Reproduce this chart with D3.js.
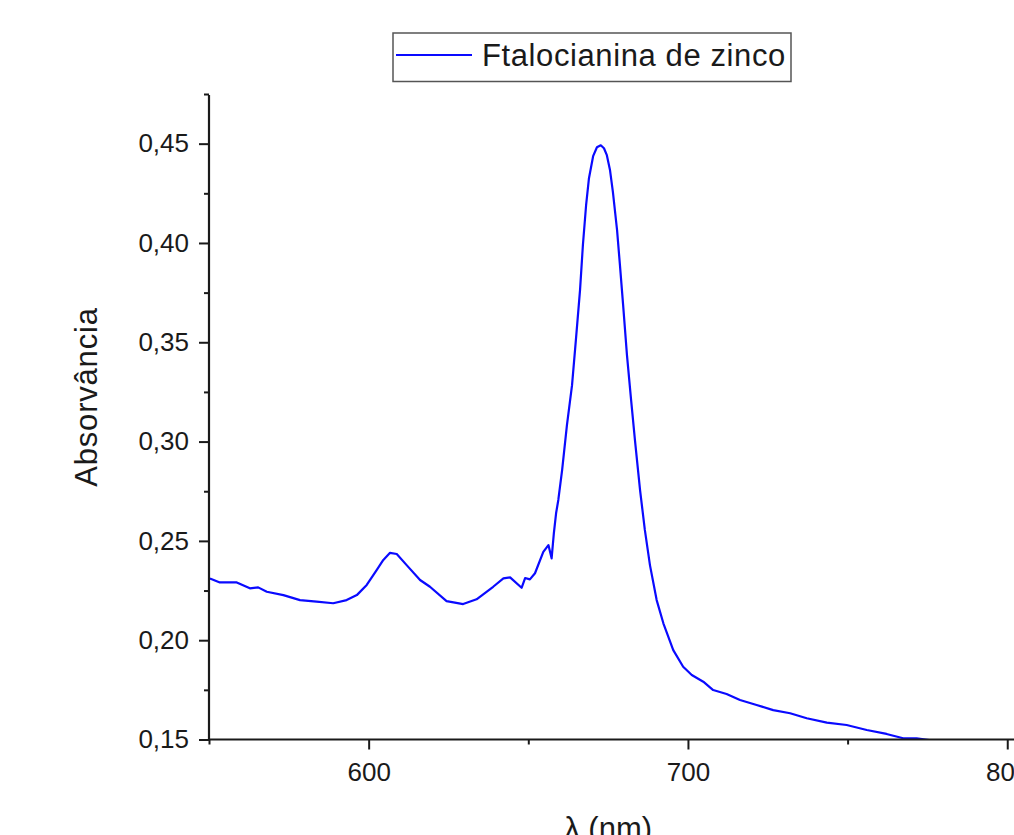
<!DOCTYPE html>
<html>
<head>
<meta charset="utf-8">
<script src="https://cdn.jsdelivr.net/npm/d3@7"></script>
<style>
  body { margin: 0; background: #fff; }
  text { font-family: "Liberation Sans", Arial, sans-serif; fill: #1a1a1a; }
</style>
</head>
<body>
<script>
// spectrum: wavelength (nm) and absorbance
var wavelength = [550.3, 553.4, 558.7, 562.8, 565.4, 568.1, 573.3, 578.5, 583.7, 588.9,
  593.1, 596.3, 599.4, 602.5, 604.6, 606.7, 608.8, 611.9, 616.1, 619.2,
  624.4, 629.6, 633.8, 639.0, 642.2, 644.3, 647.9, 649.0, 650.5, 652.1,
  654.7, 656.3, 657.3, 658.0, 658.7, 659.4, 660.6, 662.1, 663.7, 664.9,
  666.2, 667.1, 668.1, 669.0, 670.3, 671.5, 672.7, 673.7, 674.6, 675.6,
  676.5, 677.8, 678.7, 679.7, 680.9, 682.2, 683.4, 685.0, 686.5, 688.1,
  690.2, 692.3, 695.4, 698.5, 701.2, 704.8, 707.9, 712.1, 716.3, 721.5,
  726.7, 732.0, 737.2, 743.5, 749.7, 756.0, 762.2, 767.4, 771.6, 776.7, 785.2];
var absorbance = [0.2311, 0.2291, 0.2291, 0.2261, 0.2266, 0.2244, 0.2227, 0.2202, 0.2194, 0.2186,
  0.2202, 0.2227, 0.2278, 0.2353, 0.2404, 0.2440, 0.2434, 0.2378, 0.2303, 0.2269,
  0.2197, 0.2182, 0.2206, 0.2269, 0.2311, 0.2316, 0.2264, 0.2313, 0.2306, 0.2337,
  0.2445, 0.2479, 0.2412, 0.2538, 0.2639, 0.2706, 0.2857, 0.3083, 0.3284, 0.3511,
  0.3763, 0.3989, 0.4190, 0.4326, 0.4437, 0.4482, 0.4492, 0.4477, 0.4442, 0.4366,
  0.4256, 0.4065, 0.3888, 0.3687, 0.3435, 0.3209, 0.3007, 0.2756, 0.2555, 0.2378,
  0.2202, 0.2085, 0.1950, 0.1866, 0.1825, 0.1791, 0.1749, 0.1729, 0.1699, 0.1674,
  0.1648, 0.1632, 0.1607, 0.1585, 0.1573, 0.1548, 0.1528, 0.1506, 0.1506, 0.1495, 0.1467];

var xMajor = [600, 700, 800];
var xMinor = [550, 650, 750];
var yMajor = [0.15, 0.20, 0.25, 0.30, 0.35, 0.40, 0.45];
var yMinor = [0.175, 0.225, 0.275, 0.325, 0.375, 0.425, 0.475];
var seriesName = "Ftalocianina de zinco";

var W = 1014, H = 835;
var plotLeft = 209, plotBottom = 739.5, plotTop = 95;

var svg = d3.select("body").append("svg")
  .attr("width", W).attr("height", H);

var x = d3.scaleLinear().domain([550, 805]).range([plotLeft, plotLeft + 255 * 3.193]);
var y = d3.scaleLinear().domain([0.15, 0.4745]).range([plotBottom, plotTop]);

var comma = function(d) { return d3.format(".2f")(d).replace(".", ","); };

// clip
svg.append("clipPath").attr("id", "plot")
  .append("rect").attr("x", plotLeft).attr("y", plotTop - 5)
  .attr("width", W - plotLeft).attr("height", plotBottom - plotTop + 5);

// data line
var pts = wavelength.map(function(w, i) { return [w, absorbance[i]]; });
svg.append("path")
  .datum(pts)
  .attr("clip-path", "url(#plot)")
  .attr("fill", "none")
  .attr("stroke", "#0a0aff")
  .attr("stroke-width", 2.2)
  .attr("stroke-linejoin", "round")
  .attr("d", d3.line().x(d => x(d[0])).y(d => y(d[1])));

// y axis
var yAx = svg.append("g").attr("transform", "translate(" + plotLeft + ",0)")
  .call(d3.axisLeft(y).tickValues(yMajor).tickSize(10).tickPadding(10).tickFormat(comma));
var yMin = svg.append("g").attr("transform", "translate(" + plotLeft + ",0)")
  .call(d3.axisLeft(y).tickValues(yMinor).tickSize(5).tickFormat(""));

// x axis
var xAx = svg.append("g").attr("transform", "translate(0," + plotBottom + ")")
  .call(d3.axisBottom(x).tickValues(xMajor).tickSize(10).tickPadding(13).tickFormat(d3.format("d")));
var xMin = svg.append("g").attr("transform", "translate(0," + plotBottom + ")")
  .call(d3.axisBottom(x).tickValues(xMinor).tickSize(5).tickFormat(""));

[yAx, yMin, xAx, xMin].forEach(function(g) {
  g.select(".domain").remove();
  g.selectAll("line").attr("stroke", "#1a1a1a").attr("stroke-width", 2);
  g.selectAll("text").style("font-size", "26px").attr("fill", "#1a1a1a")
    .style("font-family", "'Liberation Sans', Arial, sans-serif");
});

svg.append("line").attr("x1", plotLeft).attr("x2", plotLeft)
  .attr("y1", plotTop).attr("y2", plotBottom + 1)
  .attr("stroke", "#1a1a1a").attr("stroke-width", 2.2);
svg.append("line").attr("x1", plotLeft - 1).attr("x2", W)
  .attr("y1", plotBottom).attr("y2", plotBottom)
  .attr("stroke", "#1a1a1a").attr("stroke-width", 2.2);

// axis titles
svg.append("text")
  .attr("transform", "translate(97,397) rotate(-90)")
  .attr("text-anchor", "middle")
  .style("font-size", "31px").style("letter-spacing", "0.8px")
  .text("Absorvância");

svg.append("text")
  .attr("x", x(675)).attr("y", 839)
  .attr("text-anchor", "middle")
  .style("font-size", "31px")
  .text("λ (nm)");

// legend
var lg = svg.append("g");
lg.append("rect").attr("x", 393).attr("y", 33).attr("width", 398).attr("height", 48.5)
  .attr("fill", "#fff").attr("stroke", "#555").attr("stroke-width", 1.5);
lg.append("line").attr("x1", 396).attr("x2", 472).attr("y1", 55).attr("y2", 55)
  .attr("stroke", "#0a0aff").attr("stroke-width", 2.2);
lg.append("text").attr("x", 482).attr("y", 66)
  .style("font-size", "31px").style("letter-spacing", "0.6px")
  .text(seriesName);
</script>
</body>
</html>
